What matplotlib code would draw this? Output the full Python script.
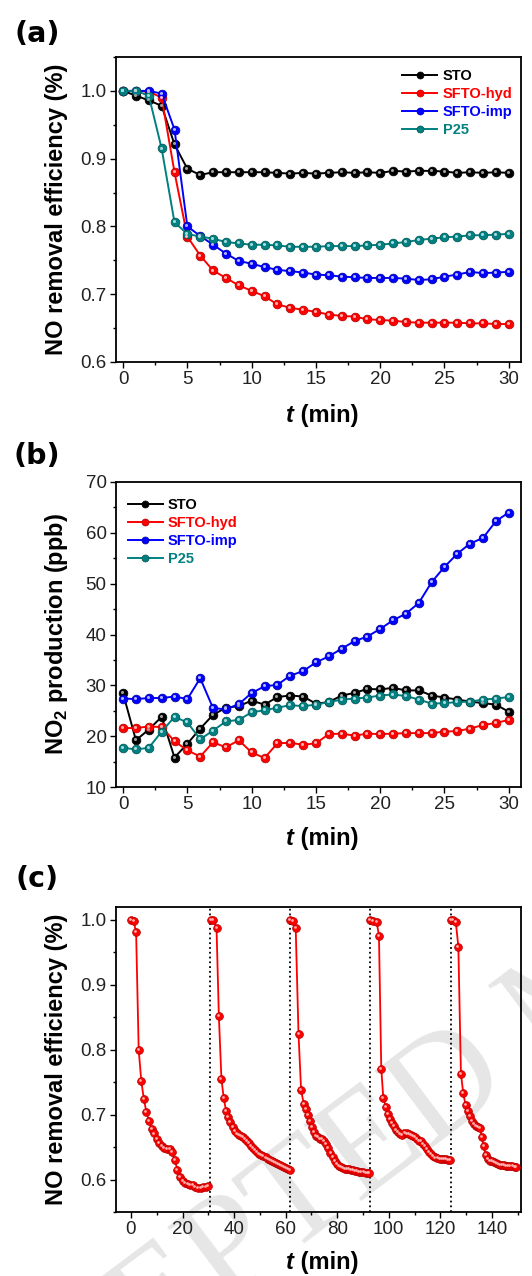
import numpy as np
import matplotlib
matplotlib.use("Agg")
import matplotlib.pyplot as plt
from matplotlib.ticker import MultipleLocator
from matplotlib.transforms import offset_copy

plt.rcParams['font.family'] = ['Liberation Sans', 'DejaVu Sans']
plt.rcParams['mathtext.fontset'] = 'custom'
plt.rcParams['mathtext.rm'] = 'Liberation Sans:bold'
plt.rcParams['mathtext.bf'] = 'Liberation Sans:bold'

#%% Data

t_min = list(range(31))
samples = ['STO', 'SFTO-hyd', 'SFTO-imp', 'P25']

# (a) NO removal efficiency
no_sto = [1.000, 0.993, 0.986, 0.978, 0.921, 0.885, 0.876, 0.880, 0.880, 0.880, 0.880,
          0.880, 0.879, 0.878, 0.879, 0.878, 0.879, 0.880, 0.879, 0.880, 0.879,
          0.882, 0.881, 0.882, 0.882, 0.881, 0.879, 0.880, 0.879, 0.880, 0.879]
no_hyd = [1.000, 1.000, 0.999, 0.990, 0.880, 0.785, 0.757, 0.735, 0.724, 0.713, 0.705,
          0.697, 0.685, 0.680, 0.677, 0.674, 0.670, 0.668, 0.667, 0.663, 0.662,
          0.661, 0.659, 0.658, 0.658, 0.658, 0.658, 0.657, 0.657, 0.656, 0.656]
no_imp = [1.000, 1.000, 1.000, 0.996, 0.943, 0.800, 0.786, 0.773, 0.760, 0.749, 0.745,
          0.740, 0.736, 0.734, 0.732, 0.729, 0.728, 0.726, 0.725, 0.724, 0.724,
          0.724, 0.723, 0.721, 0.722, 0.726, 0.729, 0.733, 0.731, 0.732, 0.733]
no_p25 = [1.000, 1.000, 0.993, 0.915, 0.806, 0.789, 0.785, 0.782, 0.777, 0.775, 0.773,
          0.773, 0.772, 0.770, 0.770, 0.770, 0.771, 0.771, 0.771, 0.772, 0.773,
          0.775, 0.777, 0.780, 0.782, 0.784, 0.785, 0.787, 0.787, 0.788, 0.789]

# (b) NO2 production (ppb)
no2_sto = [28.4, 19.2, 21.3, 23.8, 15.8, 18.5, 21.5, 24.2, 25.6, 25.9, 27.0,
           26.2, 27.7, 28.0, 27.8, 26.4, 26.7, 28.0, 28.5, 29.3, 29.2,
           29.5, 29.0, 29.0, 28.0, 27.6, 27.2, 26.8, 26.5, 26.2, 24.8]
no2_hyd = [21.6, 21.6, 21.9, 21.8, 19.0, 17.2, 16.0, 18.8, 17.8, 19.2, 16.8,
           15.7, 18.6, 18.7, 18.3, 18.6, 20.4, 20.5, 20.1, 20.5, 20.4,
           20.5, 20.6, 20.6, 20.6, 20.9, 21.0, 21.5, 22.2, 22.6, 23.2]
no2_imp = [27.4, 27.3, 27.5, 27.5, 27.8, 27.3, 31.4, 25.5, 25.3, 26.3, 28.5,
           29.8, 30.1, 31.9, 32.8, 34.5, 35.7, 37.2, 38.7, 39.6, 41.1,
           42.8, 44.1, 46.2, 50.3, 53.3, 55.9, 57.9, 59.0, 62.3, 64.0]
no2_p25 = [17.7, 17.4, 17.7, 20.9, 23.8, 22.7, 19.4, 21.1, 22.9, 23.2, 24.7,
           25.1, 25.6, 26.1, 25.9, 26.2, 26.7, 27.2, 27.4, 27.6, 28.0,
           28.2, 27.9, 27.2, 26.4, 26.5, 26.7, 26.8, 27.2, 27.4, 27.7]

# (c) recycling test, SFTO-hyd, five runs
c1_t = [0, 1, 2, 3, 4, 5, 6, 7, 8, 9, 10, 11, 12, 13, 14, 15, 16, 17, 18, 19, 20,
        21, 22, 23, 24, 25, 26, 27, 28, 29, 30]
c1_v = [1.000, 0.999, 0.981, 0.800, 0.752, 0.724, 0.704, 0.690, 0.678, 0.671, 0.663,
        0.657, 0.652, 0.649, 0.647, 0.647, 0.642, 0.630, 0.615, 0.604, 0.598,
        0.595, 0.593, 0.592, 0.591, 0.589, 0.587, 0.587, 0.588, 0.589, 0.590]
c2_t = [31.0, 32.0, 33.2, 34.1, 35.1, 36.0, 36.9, 37.8, 38.6, 39.4, 40.2, 41.0, 41.8,
        42.6, 43.4, 44.2, 45.0, 45.8, 46.6, 47.4, 48.2, 49.0, 49.8, 50.6, 51.4, 52.2,
        53.0, 53.8, 54.6, 55.4, 56.2, 57.0, 57.8, 58.6, 59.4, 60.2, 61.0, 61.6]
c2_v = [1.000, 1.000, 0.987, 0.852, 0.755, 0.725, 0.706, 0.696, 0.688, 0.681, 0.675,
        0.671, 0.668, 0.667, 0.665, 0.663, 0.660, 0.656, 0.652, 0.649, 0.646, 0.643,
        0.640, 0.638, 0.636, 0.634, 0.632, 0.630, 0.629, 0.627, 0.625, 0.624, 0.622,
        0.621, 0.619, 0.618, 0.616, 0.615]
c3_t = [61.8, 62.8, 63.9, 65.0, 66.0, 67.0, 67.8, 68.6, 69.4, 70.2, 71.0, 71.8, 72.6,
        73.4, 74.2, 75.0, 75.8, 76.6, 77.4, 78.2, 79.0, 79.8, 80.6, 81.4, 82.2, 83.0,
        83.8, 84.6, 85.4, 86.2, 87.0, 87.8, 88.6, 89.4, 90.2, 91.0, 91.8, 92.4]
c3_v = [1.000, 0.999, 0.988, 0.824, 0.738, 0.717, 0.709, 0.699, 0.690, 0.681, 0.673,
        0.667, 0.665, 0.663, 0.662, 0.660, 0.655, 0.648, 0.641, 0.635, 0.629, 0.624,
        0.621, 0.619, 0.618, 0.617, 0.617, 0.616, 0.615, 0.614, 0.613, 0.613, 0.612,
        0.611, 0.611, 0.610, 0.610, 0.610]
c4_t = [92.8, 94.0, 95.3, 96.2, 97.1, 97.9, 98.9, 99.7, 100.5, 101.3, 102.1, 102.9,
        103.7, 104.5, 105.3, 106.1, 106.9, 107.7, 108.5, 109.3, 110.1, 110.9, 111.7,
        112.5, 113.3, 114.1, 114.9, 115.7, 116.5, 117.3, 118.1, 118.9, 119.7, 120.5,
        121.3, 122.1, 122.9, 123.8]
c4_v = [1.000, 0.999, 0.997, 0.976, 0.771, 0.725, 0.712, 0.701, 0.693, 0.687, 0.682,
        0.677, 0.674, 0.670, 0.668, 0.672, 0.671, 0.670, 0.668, 0.667, 0.665, 0.662,
        0.659, 0.660, 0.655, 0.651, 0.647, 0.643, 0.639, 0.636, 0.634, 0.633, 0.632,
        0.632, 0.631, 0.631, 0.630, 0.630]
c5_t = [124.0, 124.9, 126.0, 127.0, 128.0, 128.9, 129.8, 130.6, 131.4, 132.2, 133.0,
        133.8, 134.6, 135.4, 136.1, 136.8, 137.6, 138.4, 139.2, 140.0, 140.8, 141.6,
        142.4, 143.2, 144.0, 144.8, 145.6, 146.4, 147.2, 148.0, 148.8, 149.4]
c5_v = [1.000, 1.000, 0.997, 0.959, 0.763, 0.733, 0.715, 0.706, 0.698, 0.691, 0.686,
        0.683, 0.681, 0.679, 0.666, 0.651, 0.638, 0.631, 0.629, 0.628, 0.627, 0.626,
        0.624, 0.623, 0.622, 0.622, 0.621, 0.621, 0.621, 0.621, 0.620, 0.620]
run_starts = [30.7, 61.8, 92.6, 124.3]

#%% Style

colors = ['#000000', '#ff0000', '#0000ff', '#008080']
edges = ['#000000', '#b00000', '#0000a0', '#005050']
shines = ['#a0a0a0', '#ffb4b4', '#b4b4ff', '#a8dcdc']
W, H = 532, 1276
fs_tick = 13.5
fs_lab = 17


def balls(ax, x, y, i, ms=6.3, lw=1.4, label=None):
    ax.plot(x, y, '-o', color=colors[i], lw=lw, ms=ms, mfc=colors[i], mec=edges[i],
            mew=0.5, label=label, zorder=3)
    tr = offset_copy(ax.transData, fig=ax.figure, x=-0.7, y=0.7, units='points')
    ax.plot(x, y, 'o', ms=ms * 0.35, color=shines[i], mew=0, transform=tr, zorder=4)


def frame(ax, xmaj, xmin, ymaj, ymin):
    ax.set_facecolor('none')
    for s in ax.spines.values():
        s.set_linewidth(1.3)
    ax.xaxis.set_major_locator(MultipleLocator(xmaj))
    ax.xaxis.set_minor_locator(MultipleLocator(xmin))
    ax.yaxis.set_major_locator(MultipleLocator(ymaj))
    ax.yaxis.set_minor_locator(MultipleLocator(ymin))
    ax.tick_params(which='both', direction='out', top=False, right=False,
                   labelsize=fs_tick, labelcolor='#222222', width=1.0)
    ax.tick_params(which='major', length=4.2, pad=2.5)
    ax.tick_params(which='minor', length=2.4)


def labels(ax, ylab, xy=-0.172):
    ax.text(-0.146, 0.5, ylab, transform=ax.transAxes, rotation=90, ha='center',
            va='center', fontsize=fs_lab, fontweight='bold')
    ax.text(0.44, xy, 't', transform=ax.transAxes, ha='right', va='center',
            fontsize=fs_lab, fontweight='bold', fontstyle='italic')
    ax.text(0.44, xy, ' (min)', transform=ax.transAxes, ha='left', va='center',
            fontsize=fs_lab, fontweight='bold')


def legend(ax, **kw):
    leg = ax.legend(frameon=False, fontsize=10.5, prop={'weight': 'bold', 'size': 10.5},
                    handlelength=2.4, handletextpad=0.35, labelspacing=0.28,
                    markerscale=0.8, **kw)
    for txt, c in zip(leg.get_texts(), colors):
        txt.set_color(c)


fig = plt.figure(figsize=(W / 100, H / 100), dpi=100)

def panel(top):
    return fig.add_axes([116 / W, 1 - (top + 305) / H, 405 / W, 305 / H])

# watermark in the background
fig.text(-0.1665, -0.207, 'ACCEPTED MANUSCRIPT', fontsize=105, family='Liberation Serif',
         color='#e6e6e6', rotation=37, rotation_mode='anchor', ha='left',
         va='baseline', zorder=-10)

#%% (a)
ax = panel(57)
for i, (name, v) in enumerate(zip(samples, [no_sto, no_hyd, no_imp, no_p25])):
    balls(ax, t_min, v, i, label=name)
ax.set_xlim(-0.55, 30.95)
ax.set_ylim(0.6, 1.05)
frame(ax, 5, 2.5, 0.1, 0.05)
ax.yaxis.set_major_formatter(matplotlib.ticker.FormatStrFormatter('%.1f'))
labels(ax, 'NO removal efficiency (%)', -0.174)
legend(ax, loc='upper right', bbox_to_anchor=(1.0, 0.99), borderaxespad=0.2)

#%% (b)
ax = panel(482)
for i, (name, v) in enumerate(zip(samples, [no2_sto, no2_hyd, no2_imp, no2_p25])):
    balls(ax, t_min, v, i, label=name)
ax.set_xlim(-0.55, 30.95)
ax.set_ylim(10, 70)
frame(ax, 5, 2.5, 10, 5)
labels(ax, r'NO$_\mathbf{2}$ production (ppb)', -0.170)
legend(ax, loc='upper left', bbox_to_anchor=(0.0, 0.985), borderaxespad=0.4)

#%% (c)
ax = panel(907)
for x, v in [(c1_t, c1_v), (c2_t, c2_v), (c3_t, c3_v), (c4_t, c4_v), (c5_t, c5_v)]:
    balls(ax, x, v, 1, ms=5.6, lw=1.3)
for x in run_starts:
    ax.axvline(x, color='black', ls=':', lw=1.3, zorder=2)
ax.set_xlim(-5.8, 151.3)
ax.set_ylim(0.55, 1.02)
frame(ax, 20, 10, 0.1, 0.05)
ax.yaxis.set_major_formatter(matplotlib.ticker.FormatStrFormatter('%.1f'))
labels(ax, 'NO removal efficiency (%)', -0.167)

# panel letters
for s, y in [('(a)', 34), ('(b)', 456), ('(c)', 879)]:
    fig.text(37 / W, 1 - y / H, s, family='DejaVu Sans', fontweight='bold',
             fontsize=20.5, ha='center', va='center')

fig.savefig('out.png', dpi=100)
